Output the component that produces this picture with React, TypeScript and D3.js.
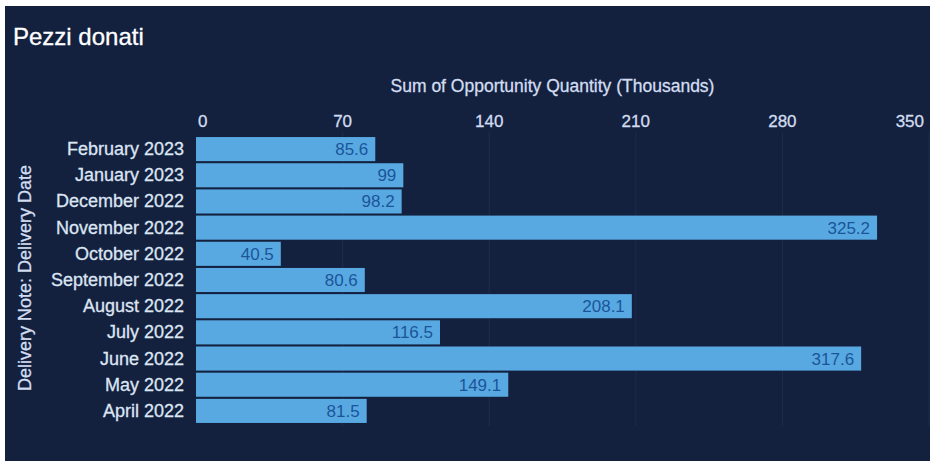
import React from 'react';
import * as d3 from 'd3';

const months = [
  'February 2023', 'January 2023', 'December 2022', 'November 2022', 'October 2022',
  'September 2022', 'August 2022', 'July 2022', 'June 2022', 'May 2022', 'April 2022',
];
const quantities = [85.6, 99, 98.2, 325.2, 40.5, 80.6, 208.1, 116.5, 317.6, 149.1, 81.5];
const xTicks = [0, 70, 140, 210, 280, 350];

const W = 930;
const H = 461;
const font = '"Liberation Sans", Arial, sans-serif';

const App: React.FC = () => {
  const x = d3.scaleLinear().domain([0, 350]).range([196, 929]);
  const y = d3.scaleBand<string>().domain(months).range([136, 424]).paddingInner(0.08).paddingOuter(0.04);
  const light = '#d2ddf0';

  return (
    <div style={{ position: 'absolute', left: 0, top: 0, width: W, height: H, background: '#fff' }}>
      <svg width={W} height={H} style={{ display: 'block', fontFamily: font }}>
        <rect x={5} y={6} width={W - 5} height={H - 6} fill="#13213f" />
        <text x={13} y={45} fill="#ffffff" fontSize={24} stroke="#ffffff" strokeWidth={0.3}>Pezzi donati</text>

        {/* grid lines */}
        {xTicks.slice(1).map(t => (
          <line key={t} x1={x(t)} x2={x(t)} y1={132} y2={426} stroke="#1f2d4c" strokeWidth={1} />
        ))}

        <text x={(x(0) + x(350)) / 2 - 10} y={92} textAnchor="middle" fill={light} fontSize={17.5}
          stroke={light} strokeWidth={0.3}>
          Sum of Opportunity Quantity (Thousands)
        </text>
        {xTicks.map((t, i) => (
          <text
            key={t}
            x={i === 0 ? x(t) + 2 : i === xTicks.length - 1 ? x(t) - 5 : x(t)}
            y={127}
            textAnchor={i === 0 ? 'start' : i === xTicks.length - 1 ? 'end' : 'middle'}
            fill={light}
            fontSize={17}
            stroke={light}
            strokeWidth={0.3}
          >
            {t}
          </text>
        ))}

        <text
          transform={`translate(31,${(y.range()[0] + y.range()[1]) / 2 - 2}) rotate(-90)`}
          textAnchor="middle"
          fill={light}
          fontSize={18}
          stroke={light}
          strokeWidth={0.3}
        >
          Delivery Note: Delivery Date
        </text>

        {months.map((m, i) => {
          const cy = (y(m) as number) + y.bandwidth() / 2;
          return (
            <g key={m}>
              <text x={184} y={cy + 6} textAnchor="end" fill="#dde5f3" fontSize={18}
                stroke="#dde5f3" strokeWidth={0.3}>{m}</text>
              <rect x={x(0)} y={y(m)} width={x(quantities[i]) - x(0)} height={y.bandwidth()} fill="#58a9e2" />
              <text x={x(quantities[i]) - 7} y={cy + 6} textAnchor="end" fill="#1b5599" fontSize={17}>
                {quantities[i]}
              </text>
            </g>
          );
        })}
      </svg>
    </div>
  );
};

export default App;
